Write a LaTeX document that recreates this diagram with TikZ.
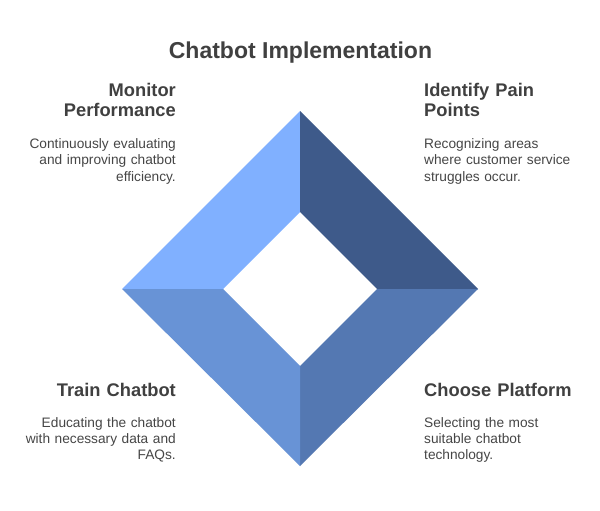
\documentclass[tikz,border=0pt]{standalone}
\usepackage{fontspec}
\setmainfont{Liberation Sans}
\definecolor{cTL}{RGB}{128,176,255}
\definecolor{cTR}{RGB}{62,90,138}
\definecolor{cBR}{RGB}{84,120,178}
\definecolor{cBL}{RGB}{104,147,214}
\definecolor{headcol}{RGB}{64,64,64}
\definecolor{bodycol}{RGB}{70,70,70}
\begin{document}
\begin{tikzpicture}[x=1pt,y=-1pt,
  titlestyle/.style={font=\fontsize{23}{27}\selectfont\bfseries, text=headcol, inner sep=0pt},
  headL/.style={font=\fontsize{18.3}{20.2}\selectfont\bfseries, text=headcol, inner sep=0pt, text width=160pt, align=right, anchor=base east},
  headR/.style={font=\fontsize{18.3}{20.2}\selectfont\bfseries, text=headcol, inner sep=0pt, text width=170pt, align=left, anchor=base west},
  bodyL/.style={font=\fontsize{13.7}{16.3}\selectfont, text=bodycol, inner sep=0pt, text width=160pt, align=right, anchor=base east},
  bodyR/.style={font=\fontsize{13.7}{16.3}\selectfont, text=bodycol, inner sep=0pt, text width=170pt, align=left, anchor=base west}]
\useasboundingbox[fill=white] (0,0) rectangle (600,511);
% diamond coordinates
\coordinate (OT) at (300,111);
\coordinate (OL) at (122,289);
\coordinate (OR) at (478,289);
\coordinate (OB) at (300,466);
\coordinate (IT) at (300,212);
\coordinate (IL) at (223,289);
\coordinate (IR) at (377,289);
\coordinate (IB) at (300,366);
\fill[cTL] (OT) -- (OL) -- (IL) -- (IT) -- cycle;
\fill[cTR] (OT) -- (OR) -- (IR) -- (IT) -- cycle;
\fill[cBR] (OR) -- (OB) -- (IB) -- (IR) -- cycle;
\fill[cBL] (OB) -- (OL) -- (IL) -- (IB) -- cycle;
% title
\node[titlestyle, anchor=base] (title) at (300.5,58.3) {Chatbot Implementation};
% top-left
\node[headL] (h1) at (176,96.7) {Monitor\\Performance};
\node[bodyL] (b1) at (176,148.7) {Continuously evaluating\\and improving chatbot\\efficiency.};
% top-right
\node[headR] (h2) at (424,96.7) {Identify Pain\\Points};
\node[bodyR] (b2) at (424,148.7) {Recognizing areas\\where customer service\\struggles occur.};
% bottom-left
\node[headL] (h3) at (176,396) {Train Chatbot};
\node[bodyL] (b3) at (176,427.3) {Educating the chatbot\\with necessary data and\\FAQs.};
% bottom-right
\node[headR] (h4) at (424,396) {Choose Platform};
\node[bodyR] (b4) at (424,427.3) {Selecting the most\\suitable chatbot\\technology.};
\end{tikzpicture}
\end{document}
